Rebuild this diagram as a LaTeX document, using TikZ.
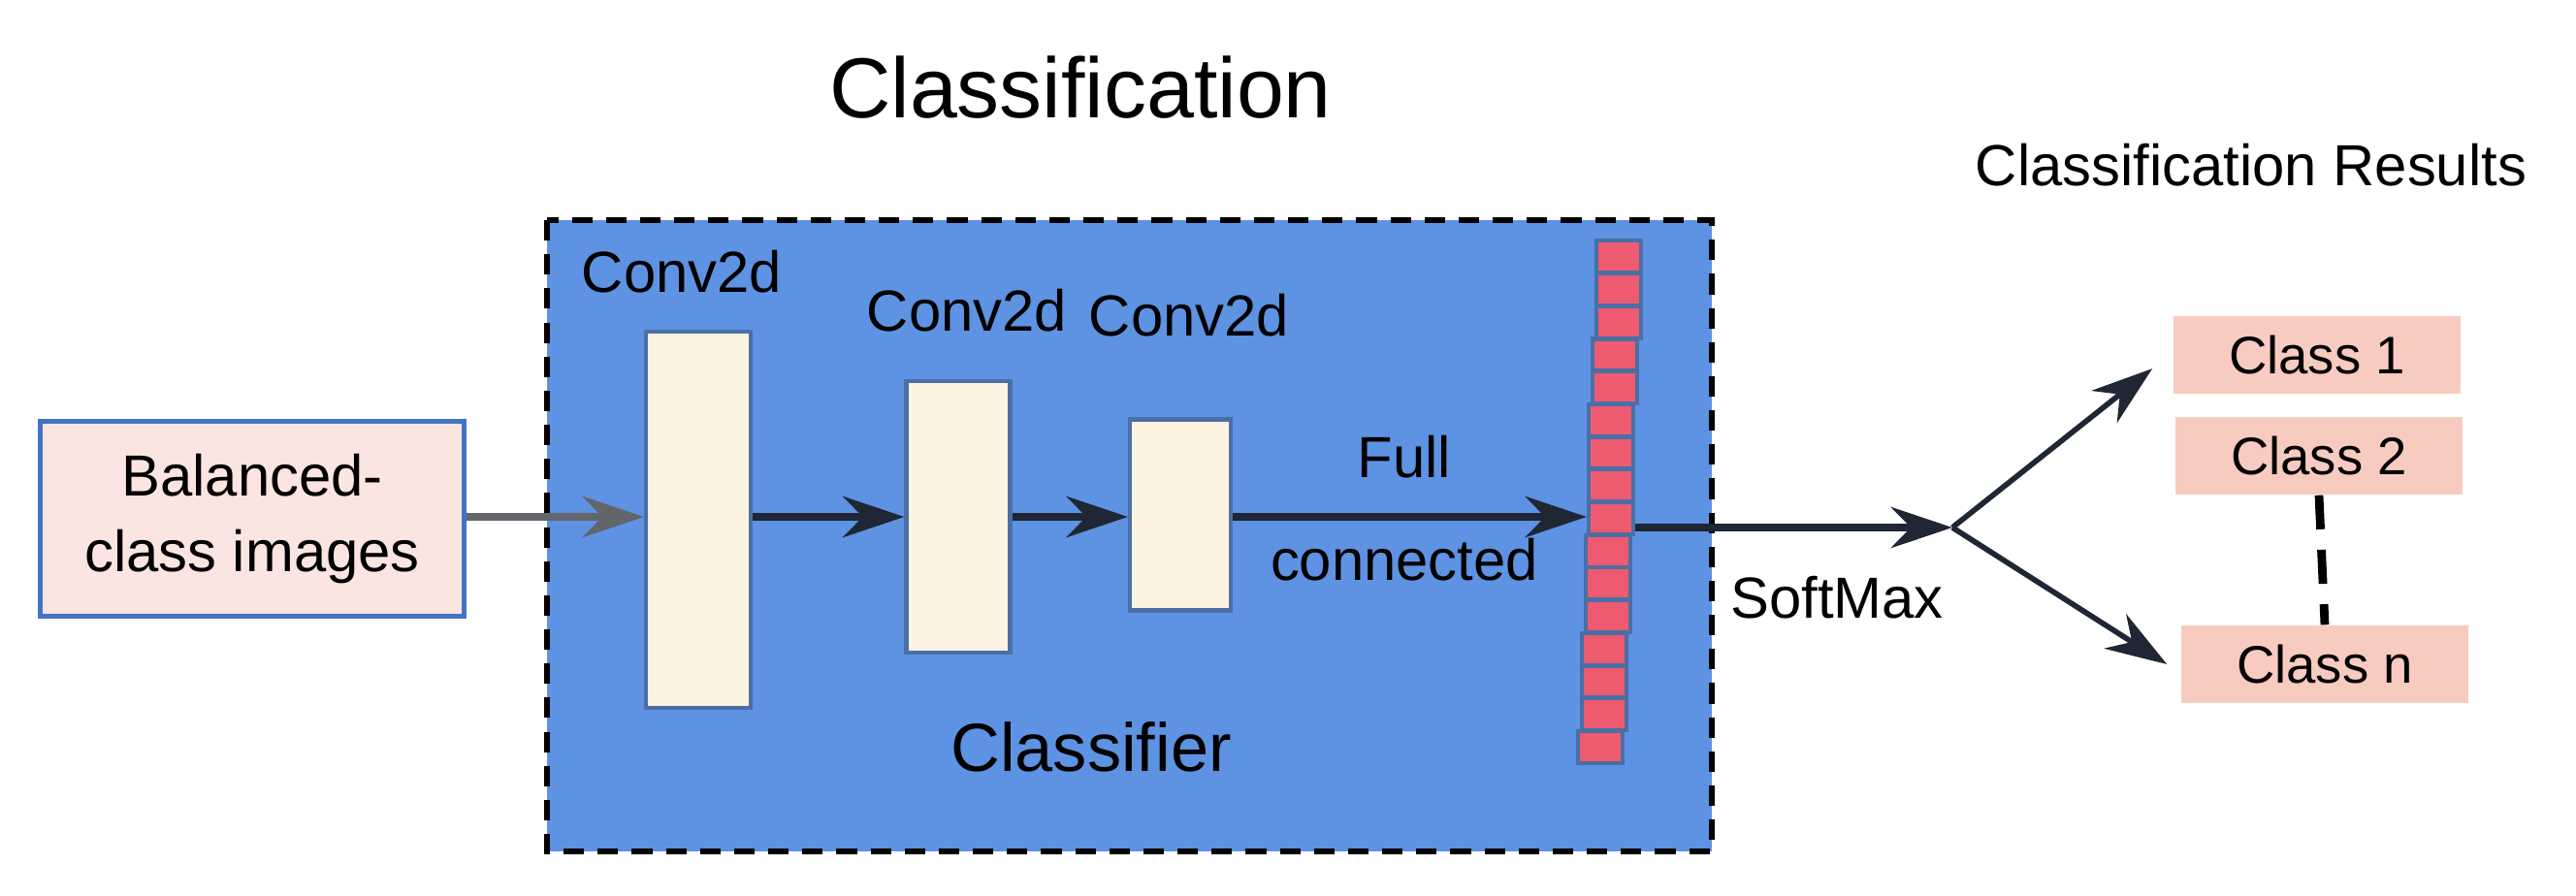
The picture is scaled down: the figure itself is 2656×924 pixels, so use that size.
\documentclass[tikz,border=0pt]{standalone}
\usepackage{fontspec}
\setmainfont{Liberation Sans}
\usepackage{tikz}
\usetikzlibrary{arrows.meta,positioning}
\definecolor{boxblue}{RGB}{94,146,226}
\definecolor{inpink}{RGB}{251,229,224}
\definecolor{inedge}{RGB}{68,114,196}
\definecolor{convfill}{RGB}{254,242,227}
\definecolor{cellred}{RGB}{238,90,111}
\definecolor{celledge}{RGB}{74,111,165}
\definecolor{classpink}{RGB}{248,203,192}
\definecolor{arrowdark}{RGB}{31,38,52}
\tikzset{>={Stealth[length=18pt,width=12pt]}}

\begin{document}
\begin{tikzpicture}[x=0.01cm,y=-0.01cm,
                    lbl/.style={font=\fontsize{17}{20}\selectfont, inner sep=0pt},
                    conv/.style={draw=celledge, line width=1.2pt, fill=convfill, inner sep=0pt},
                    cell/.style={draw=celledge, line width=1.2pt, fill=cellred, inner sep=0pt,
                                 minimum width=46*0.01cm, minimum height=33*0.01cm},
                    cls/.style={fill=classpink, inner sep=0pt, font=\fontsize{15.5}{18}\selectfont,
                                minimum width=296*0.01cm, minimum height=80*0.01cm},
                    flow/.style={line width=2.2pt, arrowdark, ->},
                   ]

\useasboundingbox (0,0) rectangle (2656,924);

% classifier frame
\draw[fill=boxblue, line width=1.6pt, dash pattern=on 6pt off 4pt] (564,227) rectangle (1765,878);

\node[font=\fontsize{25}{30}\selectfont] (title) at (1114,90) {Classification};
\node[lbl] (results) at (2321,170) {Classification Results};

\node[draw=inedge, line width=1.6pt, fill=inpink, minimum width=437*0.01cm, minimum height=201*0.01cm,
      align=center, font=\fontsize{17}{22}\selectfont] (input) at (260,535) {Balanced-\\class images};

\node[conv, minimum width=108*0.01cm, minimum height=388*0.01cm] (conv1) at (720,536) {};
\node[conv, minimum width=107*0.01cm, minimum height=280*0.01cm] (conv2) at (988,533) {};
\node[conv, minimum width=104*0.01cm, minimum height=197*0.01cm] (conv3) at (1217,531) {};

\node[lbl] (lconv1) at (703,280) {Conv2d};
\node[lbl] (lconv2) at (997,320) {Conv2d};
\node[lbl] (lconv3) at (1226,325) {Conv2d};

% feature column
\foreach \i/\xc in {1/1669,2/1669,3/1669,4/1665,5/1665,6/1661,7/1661,8/1661,9/1661,
                    10/1658,11/1658,12/1658,13/1654,14/1654,15/1654,16/1650}
  \node[cell] (c\i) at (\xc,{248+33.7*(\i-0.5)}) {};

\node[lbl, align=center] (fc) at (1448,524) {Full\\[0.6em]connected};
\node[font=\fontsize{20}{24}\selectfont] (clf) at (1125,770) {Classifier};
\node[lbl] (soft) at (1894,616) {SoftMax};

\node[cls] (k1) at (2389,366) {Class 1};
\node[cls] (k2) at (2391,470) {Class 2};
\node[cls] (kn) at (2397,685) {Class n};

\coordinate (src) at (479,533);
\coordinate (br) at (2013,544);

\draw[flow, gray!70!arrowdark] (input.east |- src) -- (conv1.west |- src);
\draw[flow] (conv1.east |- src) -- (conv2.west |- src);
\draw[flow] (conv2.east |- src) -- (conv3.west |- src);
\draw[flow] (conv3.east |- src) -- (c9.west |- src);
\draw[flow] (c9.east |- br) -- (br);
\draw[line width=1.6pt, arrowdark, ->] (br) -- ([xshift=-6pt,yshift=-4pt]k1.west);
\draw[line width=1.6pt, arrowdark, ->] (br) -- ([xshift=-4pt]kn.west);
\draw[line width=2.5pt, dash pattern=on 10pt off 6pt] (k2.south) -- (kn.north);

\end{tikzpicture}
\end{document}
